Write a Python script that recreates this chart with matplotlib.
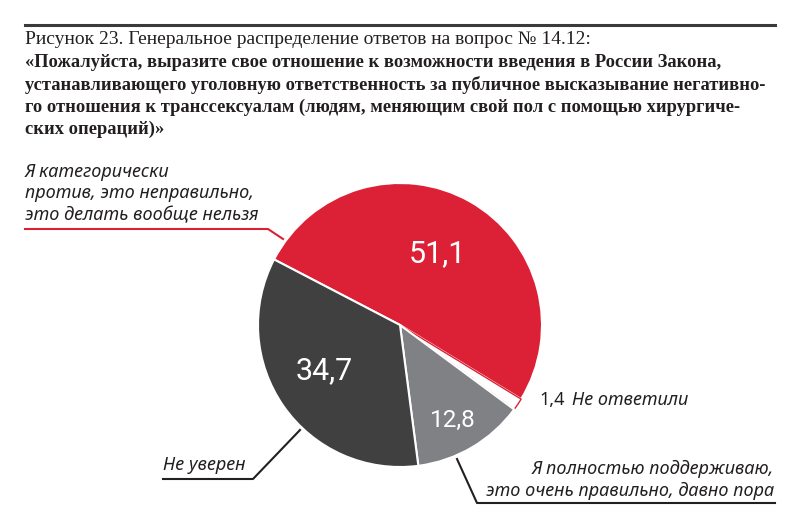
import matplotlib.pyplot as plt

# data
values = [51.1, 1.4, 12.8, 34.7]
value_labels = ["51,1", "1,4", "12,8", "34,7"]
colors = ["#DC2137", "#FFFFFF", "#808184", "#404041"]

title_lines = [
    "Рисунок 23. Генеральное распределение ответов на вопрос № 14.12:",
    "«Пожалуйста, выразите свое отношение к возможности введения в России Закона,",
    "устанавливающего уголовную ответственность за публичное высказывание негативно-",
    "го отношения к транссексуалам (людям, меняющим свой пол с помощью хирургиче-",
    "ских операций)»",
]
label_against = ["Я категорически", "против, это неправильно,", "это делать вообще нельзя"]
label_support = ["Я полностью поддерживаю,", "это очень правильно, давно пора"]
label_unsure = "Не уверен"
label_noanswer = "Не ответили"

H = 530
def Y(y):
    return H - y

txt = "#231F20"
num_font = ["Roboto", "DejaVu Sans"]
lab_font = ["Noto Sans", "DejaVu Sans"]

fig = plt.figure(figsize=(8, 5.3), dpi=100)
ax = fig.add_axes([0, 0, 1, 1])

wedges, _ = ax.pie(values, colors=colors, startangle=152.5, counterclock=False,
                   center=(400, Y(325)), radius=142,
                   wedgeprops=dict(edgecolor="white", linewidth=1.5))
wedges[1].set_edgecolor("#DC2137")
wedges[1].set_linewidth(1.0)
ax.set_xlim(0, 800)
ax.set_ylim(0, H)
ax.set_aspect("auto")
ax.axis("off")

# title block
ax.plot([25, 775], [Y(25), Y(25)], color="#3a3a3a", lw=2.2)
for i, line in enumerate(title_lines):
    ax.text(25, Y(40 + i * 22.4), line, family="Liberation Serif",
            fontsize=14 if i == 0 else 13.3,
            fontweight="normal" if i == 0 else "bold", color=txt,
            ha="left", va="center")

# values inside slices
ax.text(437, Y(254), value_labels[0], family=num_font, fontsize=22, color="white",
        ha="center", va="center")
ax.text(324, Y(371), value_labels[3], family=num_font, fontsize=22, color="white",
        ha="center", va="center")
ax.text(453, Y(420), value_labels[2], family=num_font, fontsize=17.5, color="white",
        ha="center", va="center")

# left label (against)
for i, line in enumerate(label_against):
    ax.text(25, Y(172 + i * 21.5), line, family=lab_font, style="italic",
            fontsize=13, color=txt, ha="left", va="center")
ax.plot([25, 268, 283], [Y(229), Y(229), Y(239)], color="#DC2137", lw=1.5)

# no answer
ax.text(539, Y(400), value_labels[1], family=lab_font, fontsize=13, color=txt,
        ha="left", va="center")
ax.text(572, Y(400), label_noanswer, family=lab_font, style="italic",
        fontsize=13, color=txt, ha="left", va="center")

# unsure
ax.text(163, Y(465), label_unsure, family=lab_font, style="italic",
        fontsize=13, color=txt, ha="left", va="center")
ax.plot([163, 253, 300], [Y(479), Y(479), Y(430)], color=txt, lw=1.5)

# support
for i, line in enumerate(label_support):
    ax.text(774, Y(469 + i * 21.5), line, family=lab_font, style="italic",
            fontsize=13, color=txt, ha="right", va="center")
ax.plot([775, 477, 457], [Y(503), Y(503), Y(459)], color=txt, lw=1.5)

fig.savefig("out.png", dpi=100)
